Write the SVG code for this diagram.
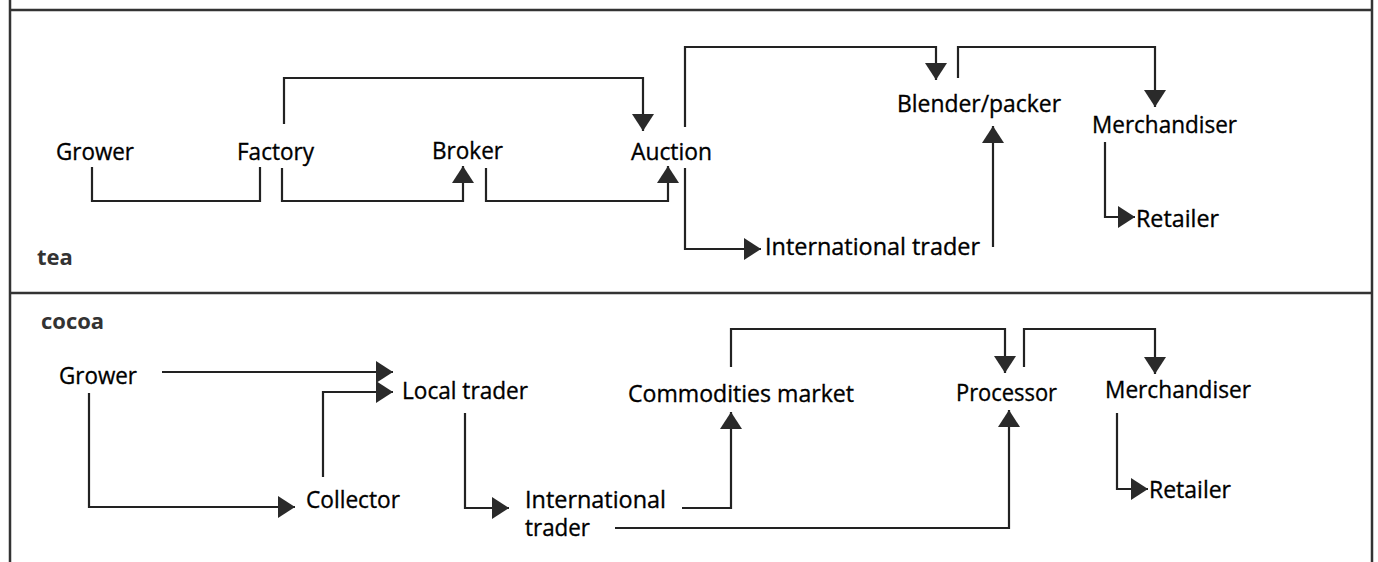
<svg xmlns="http://www.w3.org/2000/svg" width="1378" height="562" viewBox="0 0 1378 562">
<defs>
<style>
.lbl{font-family:"Open Sans","Noto Sans","Liberation Sans",sans-serif;font-size:24px;fill:#000;stroke:#000;stroke-width:0.35px;}
.sec{font-family:"Open Sans","Noto Sans","Liberation Sans",sans-serif;font-size:22px;font-weight:bold;fill:#333;}
.frame{fill:none;stroke:#333;stroke-width:2.5;}
.c{fill:none;stroke:#222;stroke-width:2.2;}
.a{marker-end:url(#ah);}
</style>
<marker id="ah" viewBox="0 0 17 22" refX="17" refY="11" markerWidth="17" markerHeight="22" markerUnits="userSpaceOnUse" orient="auto">
<path d="M0,0 L17,11 L0,22 Z" fill="#2a2a2a"/>
</marker>
</defs>
<rect width="1378" height="562" fill="#fff"/>
<g id="frame">
<path class="frame" d="M10,0 V562 M1372,0 V562 M10,10 H1372 M10,293 H1372"/>
</g>
<g id="connectors">
<path class="c" d="M92,167 V201 H260 V167"/>
<path class="c a" d="M282,168 V201 H463 V166"/>
<path class="c a" d="M486,168 V201 H668 V166"/>
<path class="c a" d="M284,124 V78 H643 V131"/>
<path class="c a" d="M685,127 V47 H936 V80"/>
<path class="c a" d="M685,168 V249 H761"/>
<path class="c a" d="M993,247 V126"/>
<path class="c a" d="M958,78 V47 H1155 V107"/>
<path class="c a" d="M1105,142 V217 H1135"/>
<path class="c a" d="M162,372 H393"/>
<path class="c a" d="M323,477 V392 H393"/>
<path class="c a" d="M89,393 V507 H295"/>
<path class="c a" d="M465,413 V508 H509"/>
<path class="c a" d="M682,508 H731 V412"/>
<path class="c a" d="M731,367 V329 H1005 V373"/>
<path class="c a" d="M615,528 H1009 V410"/>
<path class="c a" d="M1024,367 V329 H1155 V374"/>
<path class="c a" d="M1117,413 V489 H1148"/>
</g>
<g id="tea-section"><text class="sec" x="37" y="265">tea</text></g>
<g id="tea-grower"><text class="lbl" x="56" y="160" textLength="78" lengthAdjust="spacingAndGlyphs">Grower</text></g>
<g id="tea-factory"><text class="lbl" x="237" y="160" textLength="77" lengthAdjust="spacingAndGlyphs">Factory</text></g>
<g id="tea-broker"><text class="lbl" x="432" y="159" textLength="71" lengthAdjust="spacingAndGlyphs">Broker</text></g>
<g id="tea-auction"><text class="lbl" x="631" y="160" textLength="81" lengthAdjust="spacingAndGlyphs">Auction</text></g>
<g id="tea-blender"><text class="lbl" x="897" y="112" textLength="164" lengthAdjust="spacingAndGlyphs">Blender/packer</text></g>
<g id="tea-merchandiser"><text class="lbl" x="1092" y="133" textLength="145" lengthAdjust="spacingAndGlyphs">Merchandiser</text></g>
<g id="tea-retailer"><text class="lbl" x="1136" y="227" textLength="83" lengthAdjust="spacingAndGlyphs">Retailer</text></g>
<g id="tea-intl-trader"><text class="lbl" x="765" y="255" textLength="215" lengthAdjust="spacingAndGlyphs">International trader</text></g>
<g id="cocoa-section"><text class="sec" x="41" y="329">cocoa</text></g>
<g id="cocoa-grower"><text class="lbl" x="59" y="384" textLength="78" lengthAdjust="spacingAndGlyphs">Grower</text></g>
<g id="cocoa-local-trader"><text class="lbl" x="402" y="399" textLength="126" lengthAdjust="spacingAndGlyphs">Local trader</text></g>
<g id="cocoa-collector"><text class="lbl" x="306" y="508" textLength="94" lengthAdjust="spacingAndGlyphs">Collector</text></g>
<g id="cocoa-commodities"><text class="lbl" x="628" y="402" textLength="226" lengthAdjust="spacingAndGlyphs">Commodities market</text></g>
<g id="cocoa-intl-trader"><text class="lbl" x="525" y="508" textLength="141" lengthAdjust="spacingAndGlyphs">International</text><text class="lbl" x="525" y="536" textLength="65" lengthAdjust="spacingAndGlyphs">trader</text></g>
<g id="cocoa-processor"><text class="lbl" x="956" y="401" textLength="101" lengthAdjust="spacingAndGlyphs">Processor</text></g>
<g id="cocoa-merchandiser"><text class="lbl" x="1105" y="398" textLength="146" lengthAdjust="spacingAndGlyphs">Merchandiser</text></g>
<g id="cocoa-retailer"><text class="lbl" x="1149" y="498" textLength="82" lengthAdjust="spacingAndGlyphs">Retailer</text></g>
</svg>
